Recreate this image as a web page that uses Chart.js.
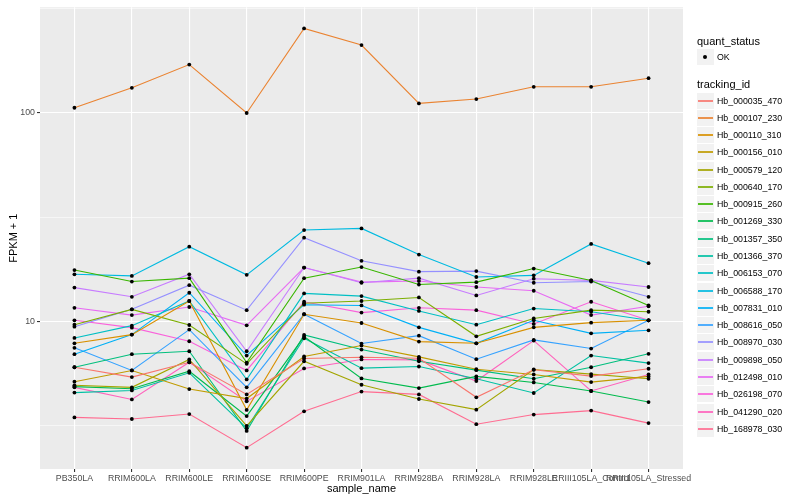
<!DOCTYPE html>
<html>
<head>
<meta charset="utf-8">
<script src="https://cdn.jsdelivr.net/npm/chart.js@4.4.0/dist/chart.umd.min.js"></script>
<style>
    body { margin: 0; background: #fff; font-family: "Liberation Sans", Arial, sans-serif; }
    #wrap { position: relative; width: 800px; height: 500px; }
    #chart { position: absolute; left: 0; top: 0; }
    .lg-title { position: absolute; left: 697px; font-size: 11px; line-height: 13px; color: #000; white-space: nowrap; }
    .lg-key { position: absolute; left: 697px; width: 17px; height: 16px; background: #F2F2F2; }
    .lg-line { position: absolute; left: 1px; width: 15px; top: 7px; height: 2px; opacity: 0.85; }
    .lg-dot { position: absolute; left: 6px; top: 6px; width: 4px; height: 4px; border-radius: 50%; background: #000; }
    .lg-text { position: absolute; left: 717px; font-size: 8.8px; line-height: 10px; color: #000; white-space: nowrap; }
</style>
</head>
<body>
<div id="wrap">
    <canvas id="chart" width="800" height="500"></canvas>
    <div id="legend"></div>
</div>
<script>
// Samples on the x axis
const sampleNames = ['PB350LA', 'RRIM600LA', 'RRIM600LE', 'RRIM600SE', 'RRIM600PE', 'RRIM901LA',
    'RRIM928BA', 'RRIM928LA', 'RRIM928LE', 'RRIII105LA_Control', 'RRIII105LA_Stressed'];

// FPKM + 1 per tracking id, one value per sample
const hb000035_470 = [6.01, 5.39, 6.35, 4.45, 6.62, 6.71, 6.64, 4.31, 5.84, 5.45, 5.91];
const hb000107_230 = [106.0, 132.1, 170.8, 100.0, 254.9, 212.1, 111.2, 116.7, 133.6, 133.6, 147.0];
const hb000110_310 = [7.83, 8.62, 12.5, 3.75, 10.8, 9.80, 7.98, 7.83, 9.34, 9.84, 10.1];
const hb000156_010 = [5.12, 5.80, 4.72, 4.25, 6.77, 7.64, 6.74, 5.88, 5.55, 5.10, 5.43];
const hb000579_120 = [4.92, 4.81, 6.55, 3.14, 6.42, 4.95, 4.23, 3.76, 5.86, 5.57, 5.29];
const hb000640_170 = [9.62, 11.4, 9.59, 6.24, 12.2, 12.5, 13.0, 8.46, 10.3, 11.3, 11.1];
const hb000915_260 = [17.6, 15.5, 16.1, 6.33, 16.1, 18.2, 15.0, 15.4, 17.9, 15.7, 11.9];
const hb001269_330 = [4.85, 4.74, 5.75, 3.50, 8.43, 5.31, 4.77, 5.43, 5.08, 4.62, 4.09];
const hb001357_350 = [6.01, 6.94, 7.17, 2.97, 8.59, 7.31, 6.42, 5.82, 5.29, 6.01, 6.97];
const hb001366_370 = [4.54, 4.65, 5.65, 3.06, 8.28, 5.95, 6.06, 5.29, 4.52, 6.84, 6.29];
const hb006153_070 = [8.31, 9.52, 12.5, 5.25, 13.6, 13.2, 11.2, 9.62, 11.5, 11.1, 10.1];
const hb006588_170 = [16.8, 16.5, 22.8, 16.7, 27.4, 27.9, 20.9, 16.3, 16.6, 23.5, 19.0];
const hb007831_010 = [6.94, 8.62, 13.7, 6.84, 12.0, 11.9, 9.34, 7.83, 10.1, 8.74, 9.04];
const hb008616_050 = [7.45, 5.80, 9.11, 4.81, 10.8, 7.81, 8.52, 6.57, 8.13, 7.39, 10.1];
const hb008970_030 = [9.41, 11.4, 14.9, 11.3, 25.2, 19.5, 17.3, 17.4, 15.3, 15.5, 13.1];
const hb009898_050 = [14.5, 13.1, 16.8, 7.17, 18.1, 15.3, 16.1, 13.3, 16.0, 15.7, 14.6];
const hb012498_010 = [11.6, 10.7, 11.7, 9.55, 18.1, 15.4, 15.6, 14.6, 14.0, 10.7, 11.8];
const hb026198_070 = [10.1, 9.31, 8.01, 5.80, 12.4, 11.0, 11.6, 11.3, 9.70, 12.4, 10.1];
const hb041290_020 = [4.81, 4.21, 6.35, 4.12, 5.93, 6.55, 6.52, 5.16, 8.07, 4.62, 5.55];
const hb168978_030 = [3.45, 3.39, 3.58, 2.47, 3.69, 4.59, 4.45, 3.20, 3.56, 3.72, 3.24];

const trackingIds = ['Hb_000035_470', 'Hb_000107_230', 'Hb_000110_310', 'Hb_000156_010', 'Hb_000579_120',
    'Hb_000640_170', 'Hb_000915_260', 'Hb_001269_330', 'Hb_001357_350', 'Hb_001366_370',
    'Hb_006153_070', 'Hb_006588_170', 'Hb_007831_010', 'Hb_008616_050', 'Hb_008970_030',
    'Hb_009898_050', 'Hb_012498_010', 'Hb_026198_070', 'Hb_041290_020', 'Hb_168978_030'];
const seriesValues = [hb000035_470, hb000107_230, hb000110_310, hb000156_010, hb000579_120,
    hb000640_170, hb000915_260, hb001269_330, hb001357_350, hb001366_370,
    hb006153_070, hb006588_170, hb007831_010, hb008616_050, hb008970_030,
    hb009898_050, hb012498_010, hb026198_070, hb041290_020, hb168978_030];

// y axis ticks (log scale): labelled ones and the minor grid in between
const yTickValues = [10, 100];
const yMinorValues = [3.1623, 31.623, 316.23];

// ggplot default hue palette for 20 levels
const palette = ['#F8766D', '#EA8331', '#D89000', '#C09B00', '#A3A500', '#7CAE00', '#39B600', '#00BB4E',
    '#00BF7D', '#00C1A3', '#00BFC4', '#00BAE0', '#00B0F6', '#35A2FF', '#9590FF', '#C77CFF',
    '#E76BF3', '#FA62DB', '#FF62BC', '#FF6C91'];

// Grey panel behind the grid
const panelBackground = {
    id: 'panelBackground',
    beforeDraw(chart) {
        const { ctx, chartArea: a } = chart;
        ctx.save();
        ctx.fillStyle = '#EBEBEB';
        ctx.fillRect(a.left, a.top, a.right - a.left, a.bottom - a.top);
        ctx.restore();
    }
};

function buildLegend() {
    const legend = document.getElementById('legend');
    let html = '';
    html += '<div class="lg-title" style="top:35px">quant_status</div>';
    html += '<div class="lg-key" style="top:49px"><div class="lg-dot"></div></div>';
    html += '<div class="lg-text" style="top:52px">OK</div>';
    html += '<div class="lg-title" style="top:78px">tracking_id</div>';
    trackingIds.forEach((id, i) => {
        const top = Math.round(92.5 + i * 17.28);
        html += `<div class="lg-key" style="top:${top}px"><div class="lg-line" style="background:${palette[i]}"></div></div>`;
        html += `<div class="lg-text" style="top:${top + 3}px">${id}</div>`;
    });
    legend.innerHTML = html;
}

function initializeChart() {
    const ctx = document.getElementById('chart').getContext('2d');

    const lineSets = seriesValues.map((values, i) => ({
        label: trackingIds[i],
        data: values.map((v, j) => ({ x: j, y: v })),
        borderColor: palette[i],
        borderWidth: 1.1,
        pointRadius: 0,
        fill: false,
        tension: 0,
        order: 2
    }));
    // Points drawn on top of all lines, like geom_point after geom_line
    const pointSets = seriesValues.map((values, i) => ({
        label: trackingIds[i] + ' points',
        data: values.map((v, j) => ({ x: j, y: v })),
        showLine: false,
        pointRadius: 1.9,
        pointBackgroundColor: '#000',
        pointBorderWidth: 0,
        order: 1
    }));

    const isMajor = (v) => yTickValues.some(t => Math.abs(t - v) < 1e-6);

    new Chart(ctx, {
        type: 'line',
        data: { datasets: lineSets.concat(pointSets) },
        options: {
            responsive: false,
            animation: false,
            layout: { padding: { top: 5, right: 117, left: 0, bottom: 0 } },
            plugins: {
                legend: { display: false },
                tooltip: { enabled: false }
            },
            scales: {
                x: {
                    type: 'linear',
                    min: -0.6,
                    max: sampleNames.length - 0.4,
                    afterBuildTicks: (scale) => {
                        scale.ticks = sampleNames.map((n, i) => ({ value: i }));
                    },
                    afterFit: (scale) => { scale.height = 31; },
                    grid: {
                        color: '#FFFFFF',
                        lineWidth: 1.1,
                        tickLength: 3,
                        tickColor: '#333333'
                    },
                    border: { display: false },
                    ticks: {
                        autoSkip: false,
                        maxRotation: 0,
                        minRotation: 0,
                        padding: 1,
                        color: '#4D4D4D',
                        font: { family: '"Liberation Sans", Arial, sans-serif', size: 8.8 },
                        callback: (v) => sampleNames[v]
                    },
                    title: {
                        display: true,
                        text: 'sample_name',
                        color: '#000',
                        font: { family: '"Liberation Sans", Arial, sans-serif', size: 11 },
                        padding: { top: 0, bottom: 4 }
                    }
                },
                y: {
                    type: 'logarithmic',
                    min: 1.95,
                    max: 322,
                    afterBuildTicks: (scale) => {
                        scale.ticks = yMinorValues.concat(yTickValues).sort((a, b) => a - b).map(v => ({ value: v }));
                    },
                    afterFit: (scale) => { scale.width = 40; },
                    grid: {
                        color: '#FFFFFF',
                        lineWidth: (c) => (c.tick && isMajor(c.tick.value)) ? 1.1 : 0.55,
                        tickLength: 3,
                        tickColor: (c) => (c.tick && isMajor(c.tick.value)) ? '#333333' : 'rgba(0,0,0,0)'
                    },
                    border: { display: false },
                    ticks: {
                        padding: 2,
                        color: '#4D4D4D',
                        font: { family: '"Liberation Sans", Arial, sans-serif', size: 8.8 },
                        callback: (v) => isMajor(v) ? String(Math.round(v)) : ''
                    },
                    title: {
                        display: true,
                        text: 'FPKM + 1',
                        color: '#000',
                        font: { family: '"Liberation Sans", Arial, sans-serif', size: 11 },
                        padding: { top: 7, bottom: 0 }
                    }
                }
            }
        },
        plugins: [panelBackground]
    });
}

document.addEventListener('DOMContentLoaded', () => {
    buildLegend();
    initializeChart();
});
</script>
</body>
</html>
